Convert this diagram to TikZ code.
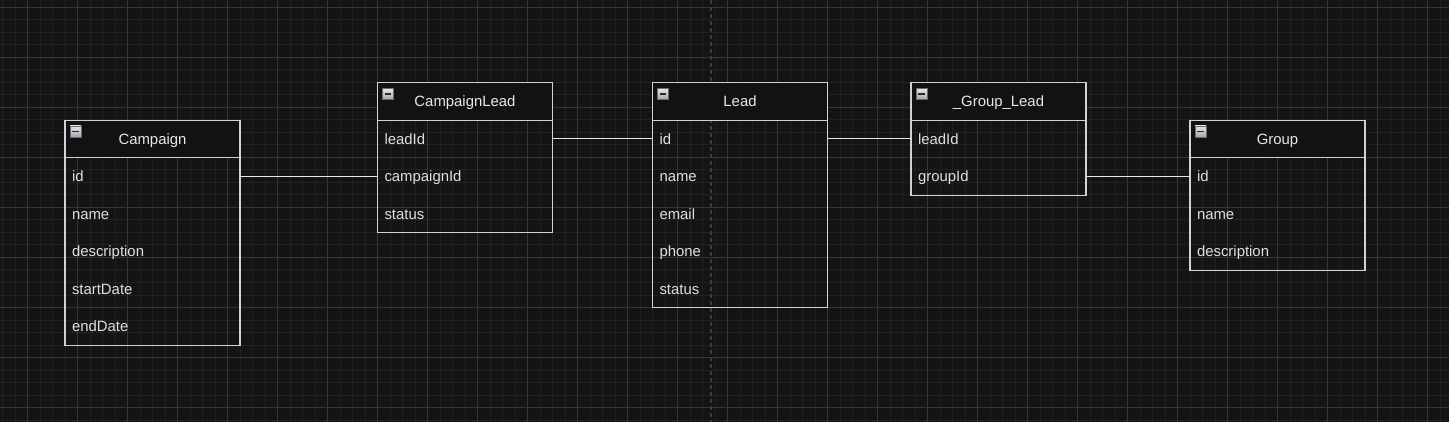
\documentclass[tikz,border=0pt]{standalone}
\usepackage{fontspec}
\setmainfont{Liberation Sans}
\usetikzlibrary{positioning,fit}
\definecolor{bgc}{HTML}{141414}
\definecolor{minorc}{HTML}{212121}
\definecolor{majorc}{HTML}{363636}
\definecolor{hdrfill}{HTML}{121212}
\definecolor{boxc}{HTML}{D2D2D2}
\definecolor{connc}{HTML}{E8E8E8}
\definecolor{hdrtxt}{HTML}{E8E8E8}
\definecolor{rowtxt}{HTML}{E0E0E0}
\definecolor{pbc}{HTML}{3C3C3C}
\definecolor{icnborder}{HTML}{6A6A74}
\definecolor{icntop}{HTML}{E6E6EC}
\definecolor{icnbot}{HTML}{A4A4AC}
\definecolor{icnmin}{HTML}{2A2A2A}
\begin{document}
\begin{tikzpicture}[x=1pt,y=-1pt,
  minorg/.style={draw=minorc,line width=1pt},
  majorg/.style={draw=majorc,line width=1pt},
  pagebreak/.style={draw=pbc,line width=1.6pt,dash pattern=on 4pt off 3pt},
  hdr/.style={rectangle,draw=boxc,fill=hdrfill,line width=1.1pt,minimum width=175pt,minimum height=37.5pt,inner sep=0pt,outer sep=0pt,text=hdrtxt,text height=12.1pt,text depth=1.9pt,font=\fontsize{14.9}{17}\selectfont},
  rowbox/.style={rectangle,text width=161pt,inner xsep=7pt,inner ysep=0pt,minimum height=37.5pt,outer sep=0pt,align=left,text=rowtxt,text height=12.1pt,text depth=1.9pt,font=\fontsize{14.9}{17}\selectfont},
  tableframe/.style={rectangle,draw=boxc,line width=1.1pt,inner sep=0pt,outer sep=0pt},
  conn/.style={draw=connc,line width=1pt},
  icon/.style={rectangle,minimum size=11pt,inner sep=0pt,outer sep=0pt,draw=icnborder,line width=0.8pt,top color=icntop,bottom color=icnbot,
    path picture={\draw[icnmin,line width=1.6pt] ([xshift=2.2pt]path picture bounding box.west) -- ([xshift=-2.2pt]path picture bounding box.east);}}
]
% background and grid
\fill[bgc] (0,0) rectangle (1449,422);
\useasboundingbox (0,0) rectangle (1449,422);
\foreach \i in {0,...,115} \draw[minorg] ({2.5+12.5*\i},0) -- ({2.5+12.5*\i},422);
\foreach \j in {0,...,33} \draw[minorg] (0,{7.5+12.5*\j}) -- (1449,{7.5+12.5*\j});
\foreach \i in {0,...,28} \draw[majorg] ({27.5+50*\i},0) -- ({27.5+50*\i},422);
\foreach \j in {0,...,8} \draw[majorg] (0,{7.5+50*\j}) -- (1449,{7.5+50*\j});
% page break line
\coordinate (pbtop) at (710.7,0);
\coordinate (pbbot) at (710.7,422);
\draw[pagebreak] (pbtop) -- (pbbot);

% Campaign
\node[hdr] (camp-h) at (152.5,139) {Campaign};
\node[rowbox,below=0pt of camp-h] (camp-id) {id};
\node[rowbox,below=0pt of camp-id] (camp-name) {name};
\node[rowbox,below=0pt of camp-name] (camp-description) {description};
\node[rowbox,below=0pt of camp-description] (camp-startDate) {startDate};
\node[rowbox,below=0pt of camp-startDate] (camp-endDate) {endDate};
\node[tableframe,fit=(camp-h)(camp-endDate)] (camp) {};
\node[icon] (camp-icon) at ([shift={(10.5,11.2)}]camp-h.north west) {};

% CampaignLead
\node[hdr] (cl-h) at (465,101.5) {CampaignLead};
\node[rowbox,below=0pt of cl-h] (cl-leadId) {leadId};
\node[rowbox,below=0pt of cl-leadId] (cl-campaignId) {campaignId};
\node[rowbox,below=0pt of cl-campaignId] (cl-status) {status};
\node[tableframe,fit=(cl-h)(cl-status)] (cl) {};
\node[icon] (cl-icon) at ([shift={(10.5,11.2)}]cl-h.north west) {};

% Lead
\node[hdr] (lead-h) at (740,101.5) {Lead};
\node[rowbox,below=0pt of lead-h] (lead-id) {id};
\node[rowbox,below=0pt of lead-id] (lead-name) {name};
\node[rowbox,below=0pt of lead-name] (lead-email) {email};
\node[rowbox,below=0pt of lead-email] (lead-phone) {phone};
\node[rowbox,below=0pt of lead-phone] (lead-status) {status};
\node[tableframe,fit=(lead-h)(lead-status)] (lead) {};
\node[icon] (lead-icon) at ([shift={(10.5,11.2)}]lead-h.north west) {};

% _Group_Lead
\node[hdr] (gl-h) at (998.5,101.5) {\_Group\_Lead};
\node[rowbox,below=0pt of gl-h] (gl-leadId) {leadId};
\node[rowbox,below=0pt of gl-leadId] (gl-groupId) {groupId};
\node[tableframe,fit=(gl-h)(gl-groupId)] (gl) {};
\node[icon] (gl-icon) at ([shift={(10.5,11.2)}]gl-h.north west) {};

% Group
\node[hdr] (grp-h) at (1277.5,139) {Group};
\node[rowbox,below=0pt of grp-h] (grp-id) {id};
\node[rowbox,below=0pt of grp-id] (grp-name) {name};
\node[rowbox,below=0pt of grp-name] (grp-description) {description};
\node[tableframe,fit=(grp-h)(grp-description)] (grp) {};
\node[icon] (grp-icon) at ([shift={(10.5,11.2)}]grp-h.north west) {};

% connectors
\draw[conn] (camp-id.east) -- (cl-campaignId.west);
\draw[conn] (cl-leadId.east) -- (lead-id.west);
\draw[conn] (lead-id.east) -- (gl-leadId.west);
\draw[conn] (gl-groupId.east) -- (grp-id.west);
\end{tikzpicture}
\end{document}
